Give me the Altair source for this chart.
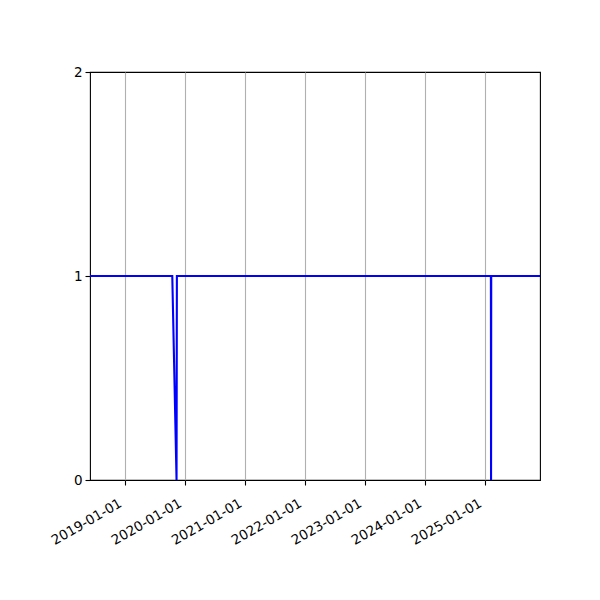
import altair as alt
import pandas as pd

dates = ["2018-06-03", "2019-10-17", "2019-11-12", "2019-11-14",
         "2025-02-07", "2025-02-08", "2025-02-09", "2025-12-03"]
values = [1, 1, 0, 1, 1, 0, 1, 1]
tick_years = [2019, 2020, 2021, 2022, 2023, 2024, 2025]
y_ticks = [0, 1, 2]

df = pd.DataFrame({"date": dates, "value": values})

tick_vals = [alt.DateTime(year=y, month=1, date=1, utc=True) for y in tick_years]

chart = alt.Chart(df).mark_line(color="#0000ff", strokeWidth=2.1, interpolate="linear").encode(
    x=alt.X("date:T",
            scale=alt.Scale(type="utc",
                            domain=[alt.DateTime(year=2018, month=6, date=3, utc=True),
                                    alt.DateTime(year=2025, month=12, date=3, utc=True)],
                            nice=False),
            axis=alt.Axis(values=tick_vals,
                          labelExpr="utcFormat(datum.value, '%Y-%m-%d')",
                          labelAngle=-30, labelAlign="right", labelBaseline="top",
                          labelOffset=-8,
                          grid=True, gridColor="#b0b0b0", gridWidth=1.1,
                          tickColor="black", tickSize=5, tickWidth=1.1,
                          domain=False, labelFontSize=13.5, labelColor="black",
                          labelFont="DejaVu Sans", labelPadding=11, labelOverlap=False,
                          title=None)),
    y=alt.Y("value:Q",
            scale=alt.Scale(domain=[0, 2], nice=False, zero=False),
            axis=alt.Axis(values=y_ticks, grid=False, labelOverlap=False,
                          labelExpr="format(datum.value, 'd')",
                          tickColor="black", tickSize=5, tickWidth=1.1,
                          domain=False, labelFontSize=13.5, labelColor="black",
                          labelFont="DejaVu Sans", labelPadding=3, title=None)),
).properties(
    width=450, height=408,
    autosize=alt.AutoSizeParams(type="none"),
    padding={"left": 82, "top": 64, "right": 52, "bottom": 104},
).configure_view(stroke="black", strokeWidth=1.1)

chart.save("out.html", embed_options={"renderer": "svg", "actions": False})
